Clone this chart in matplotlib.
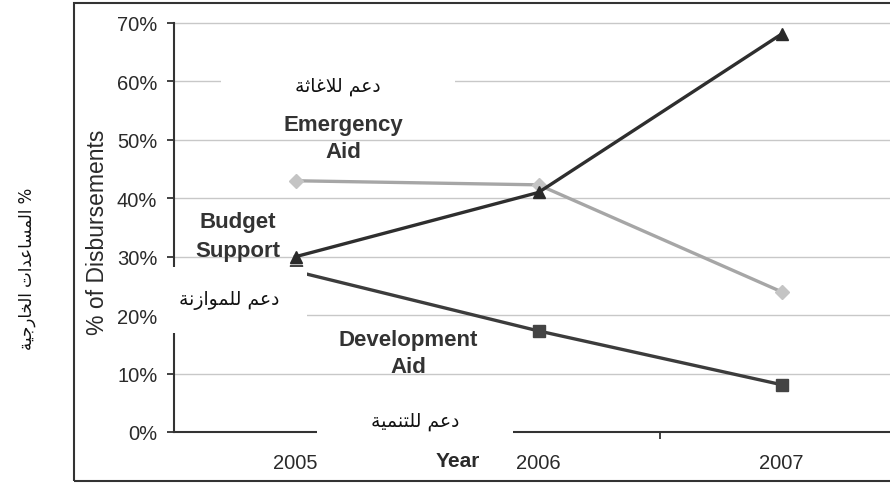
import matplotlib
matplotlib.use("Agg")
import matplotlib.pyplot as plt
from matplotlib.patches import Rectangle
from matplotlib.ticker import FixedLocator, PercentFormatter

# ---------------- data ----------------
years = ["2005", "2006", "2007"]
emergency_aid = [0.43, 0.423, 0.24]
budget_support = [0.30, 0.41, 0.681]
development_aid = [0.275, 0.173, 0.081]
y_ticks = [0.0, 0.1, 0.2, 0.3, 0.4, 0.5, 0.6, 0.7]

# ---------------- minimal Arabic shaping ----------------
# letter: (isolated, final, initial, medial); 2-tuples are right-joining only
FORMS = {
    "\u0627": ("\uFE8D", "\uFE8E"),
    "\u0629": ("\uFE93", "\uFE94"),
    "\u062A": ("\uFE95", "\uFE96", "\uFE97", "\uFE98"),
    "\u062B": ("\uFE99", "\uFE9A", "\uFE9B", "\uFE9C"),
    "\u062C": ("\uFE9D", "\uFE9E", "\uFE9F", "\uFEA0"),
    "\u062E": ("\uFEA5", "\uFEA6", "\uFEA7", "\uFEA8"),
    "\u062F": ("\uFEA9", "\uFEAA"),
    "\u0631": ("\uFEAD", "\uFEAE"),
    "\u0632": ("\uFEAF", "\uFEB0"),
    "\u0633": ("\uFEB1", "\uFEB2", "\uFEB3", "\uFEB4"),
    "\u0639": ("\uFEC9", "\uFECA", "\uFECB", "\uFECC"),
    "\u063A": ("\uFECD", "\uFECE", "\uFECF", "\uFED0"),
    "\u0644": ("\uFEDD", "\uFEDE", "\uFEDF", "\uFEE0"),
    "\u0645": ("\uFEE1", "\uFEE2", "\uFEE3", "\uFEE4"),
    "\u0646": ("\uFEE5", "\uFEE6", "\uFEE7", "\uFEE8"),
    "\u0648": ("\uFEED", "\uFEEE"),
    "\u064A": ("\uFEF1", "\uFEF2", "\uFEF3", "\uFEF4"),
    "LA": ("\uFEFB", "\uFEFC"),
}


def shape_arabic(s):
    toks = []
    i = 0
    while i < len(s):
        if s[i] == "\u0644" and i + 1 < len(s) and s[i + 1] == "\u0627":
            toks.append("LA")
            i += 2
        else:
            toks.append(s[i])
            i += 1
    out = []
    for k, t in enumerate(toks):
        if t not in FORMS:
            out.append(t)
            continue
        prev = toks[k - 1] if k > 0 else None
        nxt = toks[k + 1] if k + 1 < len(toks) else None
        jp = prev in FORMS and len(FORMS[prev]) == 4
        jn = len(FORMS[t]) == 4 and nxt in FORMS
        f = FORMS[t]
        if jp and jn:
            out.append(f[3])
        elif jp:
            out.append(f[1])
        elif jn:
            out.append(f[2])
        else:
            out.append(f[0])
    return "".join(out)[::-1]


W, H = 890, 485
fig = plt.figure(figsize=(W / 100, H / 100), dpi=100)
fig.patch.set_facecolor("white")

EN = ["Liberation Sans", "DejaVu Sans"]
AR = ["DejaVu Sans"]


def fx(x):
    return x / W


def fy(y):
    return 1 - y / H


# axes: y=0 at px 433, 0.7 at px 24; x from 174 to 903
ppu = (433 - 24) / 0.7
ytop = 0.705
ax = fig.add_axes([fx(174), fy(433), (903 - 174) / W, ytop * ppu / H])
ax.set_xlim(-0.5, 2.5)
ax.set_ylim(0, ytop)
ax.set_facecolor("white")

x = list(range(len(years)))
ax.plot(x, emergency_aid, color="#a6a6a6", lw=2.4, marker="D", ms=7,
        mfc="#c4c4c4", mec="#c4c4c4", zorder=3)
ax.plot(x, development_aid, color="#3c3c3c", lw=2.4, marker="s", ms=8,
        mfc="#444444", mec="#444444", zorder=4)
ax.plot(x, budget_support, color="#2e2e2e", lw=2.4, marker="^", ms=9,
        mfc="#2a2a2a", mec="#2a2a2a", zorder=5)

for s in ["top", "right"]:
    ax.spines[s].set_visible(False)
for s in ["left", "bottom"]:
    ax.spines[s].set_color("#333333")
    ax.spines[s].set_linewidth(1.5)
ax.spines["left"].set_bounds(0, 0.7)

ax.yaxis.set_major_locator(FixedLocator(y_ticks))
ax.yaxis.set_major_formatter(PercentFormatter(1.0, decimals=0))
ax.grid(axis="y", color="#c8c8c8", lw=1.0, zorder=0)
ax.set_axisbelow(True)
ax.tick_params(axis="y", length=5, width=1.3, color="#333333", pad=7,
               labelsize=14.5, labelcolor="#2a2a2a")
for lab in ax.get_yticklabels():
    lab.set_family(EN)

ax.set_xticks(x)
ax.set_xticklabels(years)
ax.set_xticks([0.5, 1.5], minor=True)
ax.tick_params(axis="x", which="major", length=0, pad=15, labelsize=14.5,
               labelcolor="#2a2a2a")
ax.tick_params(axis="x", which="minor", length=5, width=1.3, color="#333333")
for lab in ax.get_xticklabels():
    lab.set_family(EN)

# outer border
fig.add_artist(Rectangle((fx(74), fy(482)), (900 - 74) / W, (482 - 4) / H,
                         transform=fig.transFigure, fill=False,
                         edgecolor="#333333", lw=1.5, zorder=4))


def white_box(x0, y0, x1, y1):
    fig.add_artist(Rectangle((fx(x0), fy(y1)), (x1 - x0) / W, (y1 - y0) / H,
                             transform=fig.transFigure, facecolor="white",
                             edgecolor="none", zorder=5))


white_box(221, 68, 455, 104)
white_box(160, 268, 307, 334)
white_box(317, 398, 513, 446)

# labels
fig.text(fx(97), fy(232), "% of Disbursements", rotation=90, ha="center",
         va="center", fontsize=16.5, family=EN, color="#2a2a2a", zorder=6)
fig.text(fx(27), fy(269), shape_arabic("% المساعدات الخارجية"), rotation=90,
         ha="center", va="center", fontsize=12, family=AR, color="#111111",
         zorder=6)
fig.text(fx(458), fy(462), "Year", ha="center", va="center", fontsize=15,
         fontweight="bold", family=EN, color="#2a2a2a", zorder=6)

fig.text(fx(343), fy(139), "Emergency\nAid", ha="center", va="center",
         fontsize=16, fontweight="bold", family=EN, color="#333333",
         linespacing=1.42, zorder=6)
fig.text(fx(238), fy(237), "Budget\nSupport", ha="center", va="center",
         fontsize=16, fontweight="bold", family=EN, color="#333333",
         linespacing=1.5, zorder=6)
fig.text(fx(408), fy(354), "Development\nAid", ha="center", va="center",
         fontsize=16, fontweight="bold", family=EN, color="#333333",
         linespacing=1.42, zorder=6)

fig.text(fx(338), fy(87), shape_arabic("دعم للاغاثة"), ha="center",
         va="center", fontsize=13.5, family=AR, color="#111111", zorder=6)
fig.text(fx(229), fy(301), shape_arabic("دعم للموازنة"), ha="center",
         va="center", fontsize=13.5, family=AR, color="#111111", zorder=6)
fig.text(fx(415), fy(422), shape_arabic("دعم للتنمية"), ha="center",
         va="center", fontsize=13.5, family=AR, color="#111111", zorder=6)

fig.savefig("out.png", dpi=100, facecolor="white")
